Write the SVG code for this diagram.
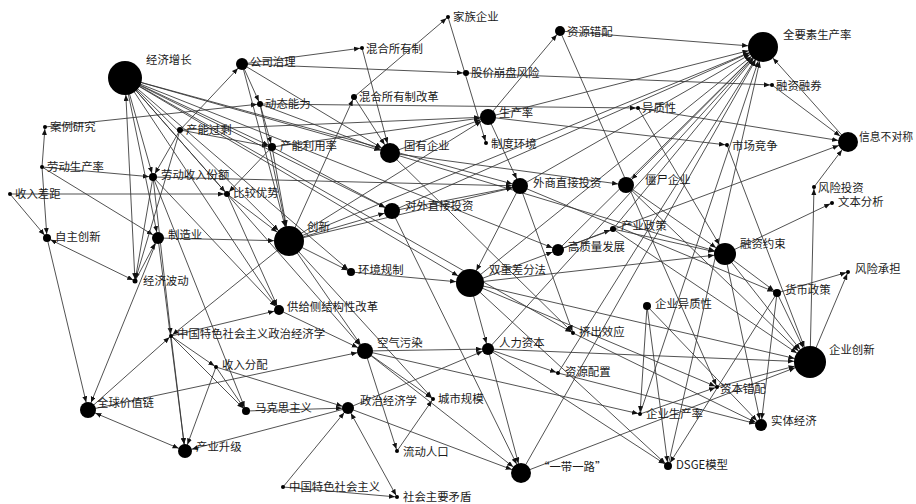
<svg xmlns="http://www.w3.org/2000/svg" width="916" height="504" viewBox="0 0 916 504">
<style>
#edges line{stroke:#333;stroke-width:0.85;fill:none}
.n{fill:#000}
text{font-family:"Noto Sans CJK SC","DejaVu Sans",sans-serif;font-size:11.4px;fill:#1a1a1a}
.t2{marker-end:url(#m2)}.t3{marker-end:url(#m3)}.t4{marker-end:url(#m4)}.t5{marker-end:url(#m5)}.t6{marker-end:url(#m6)}.t7{marker-end:url(#m7)}.t8{marker-end:url(#m8)}.t10{marker-end:url(#m10)}.t11{marker-end:url(#m11)}.t14{marker-end:url(#m14)}.t15{marker-end:url(#m15)}.t16{marker-end:url(#m16)}.t17{marker-end:url(#m17)}
.s2{marker-start:url(#m2)}.s4{marker-start:url(#m4)}.s8{marker-start:url(#m8)}
</style>
<defs>
<path id="ah" d="M0,0L6,2.5L0,5z" fill="#111"/>
<marker id="m2" markerUnits="userSpaceOnUse" orient="auto-start-reverse" refX="8" refY="2.5" markerWidth="7" markerHeight="6"><use href="#ah"/></marker>
<marker id="m3" markerUnits="userSpaceOnUse" orient="auto-start-reverse" refX="9" refY="2.5" markerWidth="7" markerHeight="6"><use href="#ah"/></marker>
<marker id="m4" markerUnits="userSpaceOnUse" orient="auto-start-reverse" refX="10" refY="2.5" markerWidth="7" markerHeight="6"><use href="#ah"/></marker>
<marker id="m5" markerUnits="userSpaceOnUse" orient="auto-start-reverse" refX="11" refY="2.5" markerWidth="7" markerHeight="6"><use href="#ah"/></marker>
<marker id="m6" markerUnits="userSpaceOnUse" orient="auto-start-reverse" refX="12" refY="2.5" markerWidth="7" markerHeight="6"><use href="#ah"/></marker>
<marker id="m7" markerUnits="userSpaceOnUse" orient="auto-start-reverse" refX="13" refY="2.5" markerWidth="7" markerHeight="6"><use href="#ah"/></marker>
<marker id="m8" markerUnits="userSpaceOnUse" orient="auto-start-reverse" refX="14" refY="2.5" markerWidth="7" markerHeight="6"><use href="#ah"/></marker>
<marker id="m10" markerUnits="userSpaceOnUse" orient="auto-start-reverse" refX="16" refY="2.5" markerWidth="7" markerHeight="6"><use href="#ah"/></marker>
<marker id="m11" markerUnits="userSpaceOnUse" orient="auto-start-reverse" refX="17" refY="2.5" markerWidth="7" markerHeight="6"><use href="#ah"/></marker>
<marker id="m14" markerUnits="userSpaceOnUse" orient="auto-start-reverse" refX="20" refY="2.5" markerWidth="7" markerHeight="6"><use href="#ah"/></marker>
<marker id="m15" markerUnits="userSpaceOnUse" orient="auto-start-reverse" refX="21" refY="2.5" markerWidth="7" markerHeight="6"><use href="#ah"/></marker>
<marker id="m16" markerUnits="userSpaceOnUse" orient="auto-start-reverse" refX="22" refY="2.5" markerWidth="7" markerHeight="6"><use href="#ah"/></marker>
<marker id="m17" markerUnits="userSpaceOnUse" orient="auto-start-reverse" refX="23" refY="2.5" markerWidth="7" markerHeight="6"><use href="#ah"/></marker>
</defs>
<rect width="916" height="504" fill="#fff"/>
<g id="edges">
<line x1="42" y1="167" x2="45" y2="127" class="t2"/>
<line x1="42" y1="167" x2="47" y2="238" class="t4"/>
<line x1="42" y1="167" x2="153" y2="177" class="t4"/>
<line x1="42" y1="167" x2="158" y2="238" class="t6"/>
<line x1="45" y1="127" x2="260" y2="104" class="t3"/>
<line x1="10" y1="194" x2="227" y2="194" class="t3"/>
<line x1="10" y1="194" x2="47" y2="238" class="t4"/>
<line x1="47" y1="238" x2="135" y2="281" class="t2 s4"/>
<line x1="47" y1="238" x2="88" y2="410" class="t8"/>
<line x1="135" y1="281" x2="125" y2="78" class="t17 s2"/>
<line x1="125" y1="78" x2="153" y2="177" class="t4"/>
<line x1="125" y1="78" x2="158" y2="238" class="t6"/>
<line x1="125" y1="78" x2="272" y2="147" class="t4"/>
<line x1="125" y1="78" x2="390" y2="153" class="t10"/>
<line x1="125" y1="78" x2="392" y2="211" class="t8"/>
<line x1="125" y1="78" x2="520" y2="186" class="t8"/>
<line x1="125" y1="78" x2="289" y2="241" class="t15"/>
<line x1="125" y1="78" x2="470" y2="283" class="t14"/>
<line x1="125" y1="78" x2="558" y2="250" class="t6"/>
<line x1="125" y1="78" x2="279" y2="310" class="t5"/>
<line x1="125" y1="78" x2="227" y2="194" class="t3"/>
<line x1="125" y1="78" x2="351" y2="272" class="t4"/>
<line x1="125" y1="78" x2="573" y2="333" class="t2"/>
<line x1="125" y1="78" x2="365" y2="351" class="t8"/>
<line x1="180" y1="130" x2="242" y2="64" class="t6"/>
<line x1="180" y1="130" x2="272" y2="147" class="t4"/>
<line x1="180" y1="130" x2="488" y2="117" class="t8"/>
<line x1="180" y1="130" x2="153" y2="177" class="t4"/>
<line x1="180" y1="130" x2="135" y2="281" class="t2"/>
<line x1="242" y1="64" x2="362" y2="48" class="t2"/>
<line x1="242" y1="64" x2="466" y2="73" class="t3"/>
<line x1="242" y1="64" x2="390" y2="153" class="t10"/>
<line x1="242" y1="64" x2="260" y2="104" class="t3"/>
<line x1="242" y1="64" x2="289" y2="241" class="t15"/>
<line x1="260" y1="104" x2="272" y2="147" class="t4"/>
<line x1="260" y1="104" x2="390" y2="153" class="t10"/>
<line x1="260" y1="104" x2="638" y2="108" class="t2"/>
<line x1="260" y1="104" x2="289" y2="241" class="t15"/>
<line x1="362" y1="48" x2="390" y2="153" class="t10"/>
<line x1="354" y1="97" x2="448" y2="17" class="t2"/>
<line x1="354" y1="97" x2="390" y2="153" class="t10"/>
<line x1="289" y1="241" x2="354" y2="97" class="t3"/>
<line x1="448" y1="17" x2="486" y2="143" class="t2"/>
<line x1="272" y1="147" x2="488" y2="117" class="t8"/>
<line x1="272" y1="147" x2="289" y2="241" class="t15"/>
<line x1="272" y1="147" x2="227" y2="194" class="t3"/>
<line x1="272" y1="147" x2="392" y2="211" class="t8"/>
<line x1="390" y1="153" x2="488" y2="117" class="t8"/>
<line x1="390" y1="153" x2="626" y2="185" class="t8"/>
<line x1="390" y1="153" x2="725" y2="254" class="t11"/>
<line x1="390" y1="153" x2="573" y2="333" class="t2"/>
<line x1="153" y1="177" x2="135" y2="281" class="t2"/>
<line x1="153" y1="177" x2="520" y2="186" class="t8"/>
<line x1="153" y1="177" x2="171" y2="336" class="t2"/>
<line x1="153" y1="177" x2="246" y2="411" class="t4"/>
<line x1="153" y1="177" x2="279" y2="310" class="t5"/>
<line x1="227" y1="194" x2="289" y2="241" class="t15"/>
<line x1="227" y1="194" x2="279" y2="310" class="t5"/>
<line x1="158" y1="238" x2="289" y2="241" class="t15"/>
<line x1="158" y1="238" x2="88" y2="410" class="t8"/>
<line x1="158" y1="238" x2="185" y2="451" class="t7"/>
<line x1="135" y1="281" x2="158" y2="238" class="t6"/>
<line x1="289" y1="241" x2="171" y2="336" class="t2"/>
<line x1="289" y1="241" x2="351" y2="272" class="t4"/>
<line x1="289" y1="241" x2="392" y2="211" class="t8"/>
<line x1="289" y1="241" x2="520" y2="186" class="t8"/>
<line x1="289" y1="241" x2="488" y2="117" class="t8"/>
<line x1="289" y1="241" x2="763" y2="47" class="t15"/>
<line x1="289" y1="241" x2="365" y2="351" class="t8"/>
<line x1="289" y1="241" x2="433" y2="399" class="t2"/>
<line x1="392" y1="211" x2="763" y2="47" class="t15"/>
<line x1="392" y1="211" x2="520" y2="186" class="t8"/>
<line x1="392" y1="211" x2="521" y2="473" class="t10"/>
<line x1="351" y1="272" x2="470" y2="283" class="t14"/>
<line x1="279" y1="310" x2="365" y2="351" class="t8"/>
<line x1="171" y1="336" x2="279" y2="310" class="t5"/>
<line x1="171" y1="336" x2="246" y2="411" class="t4"/>
<line x1="171" y1="336" x2="216" y2="367" class="t2"/>
<line x1="171" y1="336" x2="185" y2="451" class="t7"/>
<line x1="88" y1="410" x2="171" y2="336" class="t2"/>
<line x1="88" y1="410" x2="185" y2="451" class="t7 s8"/>
<line x1="88" y1="410" x2="365" y2="351" class="t8"/>
<line x1="216" y1="367" x2="246" y2="411" class="t4"/>
<line x1="216" y1="367" x2="185" y2="451" class="t7"/>
<line x1="216" y1="367" x2="348" y2="408" class="t6"/>
<line x1="246" y1="411" x2="348" y2="408" class="t6"/>
<line x1="348" y1="408" x2="185" y2="451" class="t7"/>
<line x1="283" y1="487" x2="348" y2="408" class="t6"/>
<line x1="283" y1="487" x2="397" y2="497" class="t2"/>
<line x1="397" y1="497" x2="348" y2="408" class="t6 s2"/>
<line x1="348" y1="408" x2="521" y2="473" class="t10"/>
<line x1="348" y1="408" x2="488" y2="349" class="t6"/>
<line x1="365" y1="351" x2="488" y2="349" class="t6"/>
<line x1="365" y1="351" x2="397" y2="451" class="t2"/>
<line x1="397" y1="451" x2="433" y2="399" class="t2"/>
<line x1="365" y1="351" x2="433" y2="399" class="t2"/>
<line x1="365" y1="351" x2="521" y2="473" class="t10"/>
<line x1="365" y1="351" x2="640" y2="414" class="t2"/>
<line x1="488" y1="349" x2="810" y2="362" class="t16"/>
<line x1="488" y1="349" x2="521" y2="473" class="t10"/>
<line x1="488" y1="349" x2="558" y2="373" class="t2"/>
<line x1="488" y1="349" x2="668" y2="466" class="t4"/>
<line x1="488" y1="349" x2="763" y2="47" class="t15"/>
<line x1="520" y1="186" x2="470" y2="283" class="t14"/>
<line x1="470" y1="283" x2="488" y2="349" class="t6"/>
<line x1="470" y1="283" x2="558" y2="250" class="t6"/>
<line x1="470" y1="283" x2="717" y2="387" class="t2"/>
<line x1="470" y1="283" x2="725" y2="254" class="t11"/>
<line x1="470" y1="283" x2="810" y2="362" class="t16"/>
<line x1="470" y1="283" x2="668" y2="466" class="t4"/>
<line x1="470" y1="283" x2="763" y2="47" class="t15"/>
<line x1="520" y1="186" x2="573" y2="333" class="t2"/>
<line x1="520" y1="186" x2="763" y2="47" class="t15"/>
<line x1="520" y1="186" x2="777" y2="293" class="t4"/>
<line x1="488" y1="117" x2="520" y2="186" class="t8"/>
<line x1="488" y1="117" x2="560" y2="31" class="t5"/>
<line x1="488" y1="117" x2="763" y2="47" class="t15"/>
<line x1="488" y1="117" x2="727" y2="145" class="t2"/>
<line x1="560" y1="31" x2="763" y2="47" class="t15"/>
<line x1="560" y1="31" x2="717" y2="387" class="t2"/>
<line x1="558" y1="250" x2="763" y2="47" class="t15"/>
<line x1="521" y1="473" x2="763" y2="47" class="t15"/>
<line x1="558" y1="373" x2="763" y2="47" class="t15"/>
<line x1="668" y1="466" x2="763" y2="47" class="t15"/>
<line x1="640" y1="414" x2="763" y2="47" class="t15"/>
<line x1="613" y1="229" x2="763" y2="47" class="t15"/>
<line x1="763" y1="47" x2="626" y2="185" class="t8"/>
<line x1="848" y1="142" x2="763" y2="47" class="t15"/>
<line x1="772" y1="85" x2="848" y2="142" class="t10"/>
<line x1="466" y1="73" x2="772" y2="85" class="t2"/>
<line x1="638" y1="108" x2="848" y2="142" class="t10"/>
<line x1="638" y1="108" x2="725" y2="254" class="t11"/>
<line x1="727" y1="145" x2="810" y2="362" class="t16"/>
<line x1="810" y1="362" x2="814" y2="187" class="t2"/>
<line x1="814" y1="187" x2="848" y2="142" class="t10"/>
<line x1="725" y1="254" x2="832" y2="203" class="t2"/>
<line x1="725" y1="254" x2="777" y2="293" class="t4"/>
<line x1="725" y1="254" x2="810" y2="362" class="t16"/>
<line x1="725" y1="254" x2="761" y2="425" class="t6"/>
<line x1="777" y1="293" x2="848" y2="272" class="t2"/>
<line x1="777" y1="293" x2="810" y2="362" class="t16"/>
<line x1="777" y1="293" x2="761" y2="425" class="t6"/>
<line x1="810" y1="362" x2="848" y2="272" class="t2"/>
<line x1="626" y1="185" x2="725" y2="254" class="t11"/>
<line x1="626" y1="185" x2="810" y2="362" class="t16"/>
<line x1="613" y1="229" x2="725" y2="254" class="t11"/>
<line x1="613" y1="229" x2="810" y2="362" class="t16"/>
<line x1="558" y1="250" x2="613" y2="229" class="t3"/>
<line x1="558" y1="250" x2="848" y2="142" class="t10"/>
<line x1="647" y1="306" x2="640" y2="414" class="t2"/>
<line x1="647" y1="306" x2="761" y2="425" class="t6"/>
<line x1="647" y1="306" x2="668" y2="466" class="t4"/>
<line x1="717" y1="387" x2="810" y2="362" class="t16"/>
<line x1="640" y1="414" x2="717" y2="387" class="t2"/>
<line x1="573" y1="333" x2="761" y2="425" class="t6"/>
<line x1="558" y1="373" x2="761" y2="425" class="t6"/>
<line x1="521" y1="473" x2="810" y2="362" class="t16"/>
<line x1="777" y1="293" x2="668" y2="466" class="t4"/>
</g>
<g id="n-jjzz"><circle class="n" cx="125" cy="78" r="17"/><text x="146" y="64">经济增长</text></g>
<g id="n-gszl"><circle class="n" cx="242" cy="64" r="6"/><text x="250" y="66">公司治理</text></g>
<g id="n-hhsyz"><circle class="n" cx="362" cy="48" r="2"/><text x="366" y="53">混合所有制</text></g>
<g id="n-jzqy"><circle class="n" cx="448" cy="17" r="2"/><text x="453" y="21">家族企业</text></g>
<g id="n-gjbp"><circle class="n" cx="466" cy="73" r="3"/><text x="471" y="77">股价崩盘风险</text></g>
<g id="n-zycp"><circle class="n" cx="560" cy="31" r="5"/><text x="567" y="36">资源错配</text></g>
<g id="n-qys"><circle class="n" cx="763" cy="47" r="15"/><text x="783" y="39">全要素生产率</text></g>
<g id="n-rzrq"><circle class="n" cx="772" cy="85" r="2"/><text x="776" y="90">融资融券</text></g>
<g id="n-hhgg"><circle class="n" cx="354" cy="97" r="3"/><text x="359" y="101">混合所有制改革</text></g>
<g id="n-dtnl"><circle class="n" cx="260" cy="104" r="3"/><text x="265" y="108">动态能力</text></g>
<g id="n-scl"><circle class="n" cx="488" cy="117" r="8"/><text x="499" y="117">生产率</text></g>
<g id="n-yzx"><circle class="n" cx="638" cy="108" r="2"/><text x="642" y="112">异质性</text></g>
<g id="n-alyj"><circle class="n" cx="45" cy="127" r="2"/><text x="50" y="131">案例研究</text></g>
<g id="n-cngs"><circle class="n" cx="180" cy="130" r="3"/><text x="186" y="134">产能过剩</text></g>
<g id="n-cnly"><circle class="n" cx="272" cy="147" r="4"/><text x="280" y="150">产能利用率</text></g>
<g id="n-gyqy"><circle class="n" cx="390" cy="153" r="10"/><text x="404" y="150">国有企业</text></g>
<g id="n-zdhj"><circle class="n" cx="486" cy="143" r="2"/><text x="491" y="148">制度环境</text></g>
<g id="n-scjz"><circle class="n" cx="727" cy="145" r="2"/><text x="732" y="150">市场竞争</text></g>
<g id="n-xxbd"><circle class="n" cx="848" cy="142" r="10"/><text x="859" y="141" style="font-size:10.8px">信息不对称</text></g>
<g id="n-ldscl"><circle class="n" cx="42" cy="167" r="2"/><text x="47" y="171">劳动生产率</text></g>
<g id="n-ldsr"><circle class="n" cx="153" cy="177" r="4"/><text x="161" y="179">劳动收入份额</text></g>
<g id="n-srcj"><circle class="n" cx="10" cy="194" r="2"/><text x="15" y="198">收入差距</text></g>
<g id="n-bjys"><circle class="n" cx="227" cy="194" r="3"/><text x="233" y="197">比较优势</text></g>
<g id="n-wszj"><circle class="n" cx="520" cy="186" r="8"/><text x="533" y="187">外商直接投资</text></g>
<g id="n-jsqy"><circle class="n" cx="626" cy="185" r="8"/><text x="645" y="184">僵尸企业</text></g>
<g id="n-fxtz"><circle class="n" cx="814" cy="187" r="2"/><text x="818" y="192">风险投资</text></g>
<g id="n-wbfx"><circle class="n" cx="832" cy="203" r="2"/><text x="838" y="206">文本分析</text></g>
<g id="n-zzcx"><circle class="n" cx="47" cy="238" r="4"/><text x="55" y="241">自主创新</text></g>
<g id="n-zzy"><circle class="n" cx="158" cy="238" r="6"/><text x="168" y="239">制造业</text></g>
<g id="n-cx"><circle class="n" cx="289" cy="241" r="15"/><text x="307" y="231">创新</text></g>
<g id="n-dwzj"><circle class="n" cx="392" cy="211" r="8"/><text x="405" y="210">对外直接投资</text></g>
<g id="n-cyzc"><circle class="n" cx="613" cy="229" r="3"/><text x="621" y="230">产业政策</text></g>
<g id="n-gzl"><circle class="n" cx="558" cy="250" r="6"/><text x="568" y="251">高质量发展</text></g>
<g id="n-rzys"><circle class="n" cx="725" cy="254" r="11"/><text x="740" y="248">融资约束</text></g>
<g id="n-hjgz"><circle class="n" cx="351" cy="272" r="4"/><text x="358" y="274">环境规制</text></g>
<g id="n-scf"><circle class="n" cx="470" cy="283" r="14"/><text x="489" y="274">双重差分法</text></g>
<g id="n-fxcd"><circle class="n" cx="848" cy="272" r="2"/><text x="855" y="273">风险承担</text></g>
<g id="n-jjbd"><circle class="n" cx="135" cy="281" r="2.5"/><text x="143" y="285">经济波动</text></g>
<g id="n-hbzc"><circle class="n" cx="777" cy="293" r="4"/><text x="785" y="294">货币政策</text></g>
<g id="n-gjc"><circle class="n" cx="279" cy="310" r="5"/><text x="287" y="311">供给侧结构性改革</text></g>
<g id="n-qyyzx"><circle class="n" cx="647" cy="306" r="4"/><text x="655" y="308">企业异质性</text></g>
<g id="n-jcxy"><circle class="n" cx="573" cy="333" r="2"/><text x="579" y="336">挤出效应</text></g>
<g id="n-zgts"><circle class="n" cx="171" cy="336" r="2"/><text x="177" y="338">中国特色社会主义政治经济学</text></g>
<g id="n-kqwr"><circle class="n" cx="365" cy="351" r="8"/><text x="377" y="347">空气污染</text></g>
<g id="n-rlzb"><circle class="n" cx="488" cy="349" r="6"/><text x="499" y="347">人力资本</text></g>
<g id="n-qycx"><circle class="n" cx="810" cy="362" r="16"/><text x="829" y="354">企业创新</text></g>
<g id="n-srfp"><circle class="n" cx="216" cy="367" r="2"/><text x="222" y="369">收入分配</text></g>
<g id="n-zypz"><circle class="n" cx="558" cy="373" r="2"/><text x="565" y="376">资源配置</text></g>
<g id="n-zbcp"><circle class="n" cx="717" cy="387" r="2"/><text x="720" y="393">资本错配</text></g>
<g id="n-qqjzl"><circle class="n" cx="88" cy="410" r="8"/><text x="97" y="407">全球价值链</text></g>
<g id="n-mkszy"><circle class="n" cx="246" cy="411" r="4"/><text x="255" y="412">马克思主义</text></g>
<g id="n-zzjjx"><circle class="n" cx="348" cy="408" r="6"/><text x="360" y="405">政治经济学</text></g>
<g id="n-csgm"><circle class="n" cx="433" cy="399" r="2"/><text x="438" y="403">城市规模</text></g>
<g id="n-qyscl"><circle class="n" cx="640" cy="414" r="2"/><text x="646" y="418">企业生产率</text></g>
<g id="n-stjj"><circle class="n" cx="761" cy="425" r="6"/><text x="771" y="425">实体经济</text></g>
<g id="n-cysj"><circle class="n" cx="185" cy="451" r="7"/><text x="196" y="451">产业升级</text></g>
<g id="n-ldrk"><circle class="n" cx="397" cy="451" r="2"/><text x="403" y="456">流动人口</text></g>
<g id="n-ydyl"><circle class="n" cx="521" cy="473" r="10"/><text x="538" y="471">“一带一路”</text></g>
<g id="n-dsge"><circle class="n" cx="668" cy="466" r="4"/><text x="676" y="469">DSGE模型</text></g>
<g id="n-zgtsshzy"><circle class="n" cx="283" cy="487" r="2"/><text x="289" y="491">中国特色社会主义</text></g>
<g id="n-shzymd"><circle class="n" cx="397" cy="497" r="2"/><text x="403" y="501">社会主要矛盾</text></g>
</svg>
